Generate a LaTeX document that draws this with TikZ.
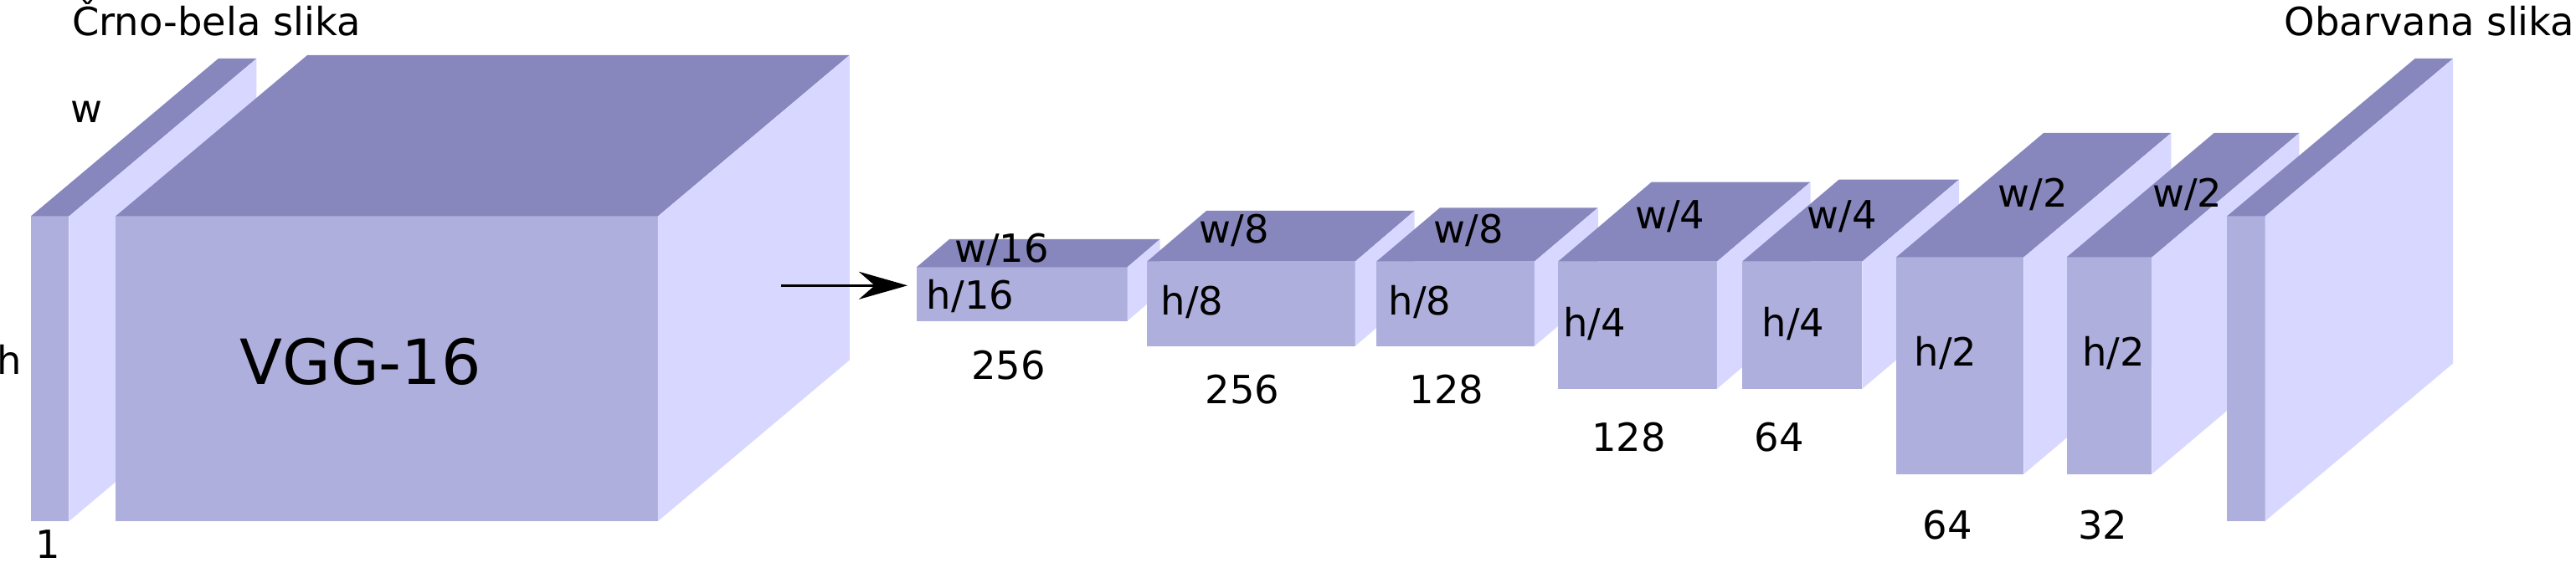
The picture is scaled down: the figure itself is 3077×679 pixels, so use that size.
\documentclass[tikz,border=0pt]{standalone}
\usepackage{fontspec}
\setmainfont{DejaVu Sans}
\usepackage{tikz}
\usetikzlibrary{arrows.meta}
\definecolor{frontcol}{HTML}{AFAFDD}
\definecolor{topcol}{HTML}{8787BD}
\definecolor{sidecol}{HTML}{D7D7FF}

\begin{document}
\begin{tikzpicture}[x=0.01cm, y=-0.01cm,
    every node/.style={inner sep=0pt, outer sep=0pt, font=\fontsize{13.2}{15}\selectfont},
    front/.style={fill=frontcol, anchor=north west},
    lbl/.style={anchor=base}]
  \useasboundingbox (0,0) rectangle (3077,679);
  \node[lbl] (tin) at (258.5,43) {Črno-bela slika};
  \node[lbl] (tout) at (2902,43) {Obarvana slika};
  \node[front, minimum width=0.456cm, minimum height=3.643cm] (img) at (36.8,258.5) {};
  \fill[topcol] (img.north west) -- ++(224,-188.5) -- ++(45.6,0) -- (img.north east) -- cycle;
  \fill[sidecol] (img.north east) -- ++(224,-188.5) -- ++(0,364.3) -- (img.south east) -- cycle;
  \node[lbl] (imgw) at (103,147) {w};
  \node[lbl] (imgh) at (11.7,448) {h};
  \node[lbl] (imgc) at (57,667) {1};
  \node[front, minimum width=6.475cm, minimum height=3.643cm] (vgg) at (138,258.5) {};
  \fill[topcol] (vgg.north west) -- ++(229,-192.5) -- ++(647.5,0) -- (vgg.north east) -- cycle;
  \fill[sidecol] (vgg.north east) -- ++(229,-192.5) -- ++(0,364.3) -- (vgg.south east) -- cycle;
  \node[lbl, font=\fontsize{21.2}{25}\selectfont] (vggt) at (430.6,459) {VGG-16};
  \node[front, minimum width=2.515cm, minimum height=0.642cm] (l16) at (1095,319.3) {};
  \fill[topcol] (l16.north west) -- ++(39,-33.3) -- ++(251.5,0) -- (l16.north east) -- cycle;
  \fill[sidecol] (l16.north east) -- ++(39,-33.3) -- ++(0,64.2) -- (l16.south east) -- cycle;
  \node[lbl] (l16w) at (1196.7,313.3) {w/16};
  \node[lbl] (l16h) at (1159,369.3) {h/16};
  \node[lbl] (l16c) at (1204.5,453.3) {256};
  \node[front, minimum width=2.485cm, minimum height=1.01cm] (l8a) at (1370,312.7) {};
  \fill[topcol] (l8a.north west) -- ++(71,-60.7) -- ++(248.5,0) -- (l8a.north east) -- cycle;
  \fill[sidecol] (l8a.north east) -- ++(71,-60.7) -- ++(0,101) -- (l8a.south east) -- cycle;
  \node[lbl] (l8aw) at (1474.5,291) {w/8};
  \node[lbl] (l8ah) at (1424,376.7) {h/8};
  \node[lbl] (l8ac) at (1484,482.7) {256};
  \node[front, minimum width=1.887cm, minimum height=1.01cm] (l8b) at (1644,312.7) {};
  \fill[topcol] (l8b.north west) -- ++(76,-64.4) -- ++(188.7,0) -- (l8b.north east) -- cycle;
  \fill[sidecol] (l8b.north east) -- ++(76,-64.4) -- ++(0,101) -- (l8b.south east) -- cycle;
  \node[lbl] (l8bw) at (1754,291) {w/8};
  \node[lbl] (l8bh) at (1696,376.7) {h/8};
  \node[lbl] (l8bc) at (1728,482.7) {128};
  \node[front, minimum width=1.898cm, minimum height=1.52cm] (l4a) at (1861,312.7) {};
  \fill[topcol] (l4a.north west) -- ++(111.6,-95) -- ++(189.8,0) -- (l4a.north east) -- cycle;
  \fill[sidecol] (l4a.north east) -- ++(111.6,-95) -- ++(0,152) -- (l4a.south east) -- cycle;
  \node[lbl] (l4aw) at (1994.6,273.7) {w/4};
  \node[lbl] (l4ah) at (1904.5,402.8) {h/4};
  \node[lbl] (l4ac) at (1945.5,539.2) {128};
  \node[front, minimum width=1.433cm, minimum height=1.52cm] (l4b) at (2081,312.7) {};
  \fill[topcol] (l4b.north west) -- ++(115.6,-98) -- ++(143.3,0) -- (l4b.north east) -- cycle;
  \fill[sidecol] (l4b.north east) -- ++(115.6,-98) -- ++(0,152) -- (l4b.south east) -- cycle;
  \node[lbl] (l4bw) at (2200,273.7) {w/4};
  \node[lbl] (l4bh) at (2142,402.8) {h/4};
  \node[lbl] (l4bc) at (2125,539.2) {64};
  \node[front, minimum width=1.523cm, minimum height=2.59cm] (l2a) at (2265,307.5) {};
  \fill[topcol] (l2a.north west) -- ++(176,-148.5) -- ++(152.3,0) -- (l2a.north east) -- cycle;
  \fill[sidecol] (l2a.north east) -- ++(176,-148.5) -- ++(0,259) -- (l2a.south east) -- cycle;
  \node[lbl] (l2aw) at (2428,247.7) {w/2};
  \node[lbl] (l2ah) at (2324,437.4) {h/2};
  \node[lbl] (l2ac) at (2326,644) {64};
  \node[front, minimum width=1.018cm, minimum height=2.59cm] (l2b) at (2468.6,307.5) {};
  \fill[topcol] (l2b.north west) -- ++(176,-148.5) -- ++(101.8,0) -- (l2b.north east) -- cycle;
  \fill[sidecol] (l2b.north east) -- ++(176,-148.5) -- ++(0,259) -- (l2b.south east) -- cycle;
  \node[lbl] (l2bw) at (2612.7,247.7) {w/2};
  \node[lbl] (l2bh) at (2524.8,437.4) {h/2};
  \node[lbl] (l2bc) at (2511.7,644) {32};
  \node[front, minimum width=0.455cm, minimum height=3.643cm] (out) at (2660,258.5) {};
  \fill[topcol] (out.north west) -- ++(224.7,-188.5) -- ++(45.5,0) -- (out.north east) -- cycle;
  \fill[sidecol] (out.north east) -- ++(224.7,-188.5) -- ++(0,364.3) -- (out.south east) -- cycle;
  \coordinate (arrtail) at (933,341.3);
  \draw[line width=0.95pt, -{Stealth[length=5.8mm, width=3.3mm]}, shorten >=1.1mm] (arrtail) -- (arrtail -| l16.west);
\end{tikzpicture}
\end{document}
